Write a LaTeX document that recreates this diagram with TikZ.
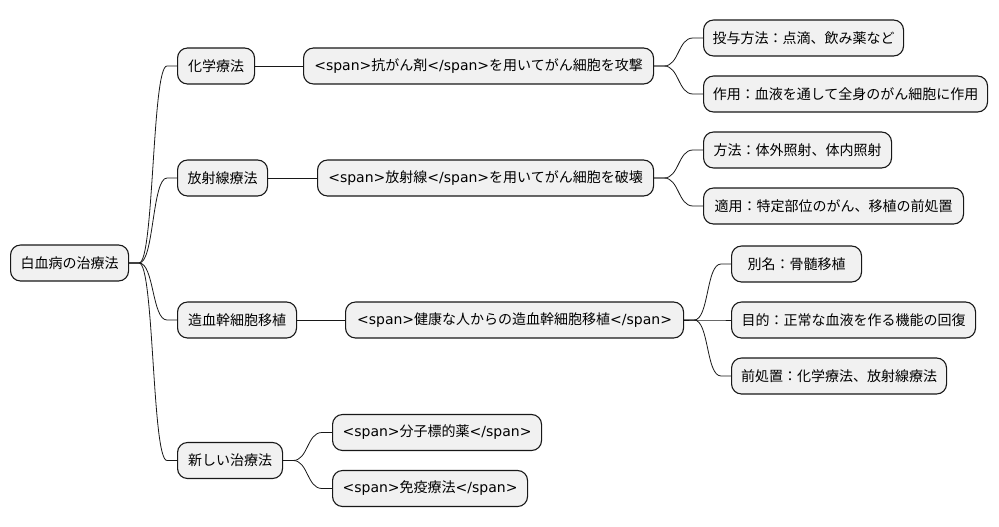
\documentclass[tikz,border=0pt]{standalone}
\usepackage{fontspec}
\setmainfont{Noto Sans CJK JP}
\newfontfamily\lat{DejaVu Sans}
\usetikzlibrary{calc}
\definecolor{boxfill}{HTML}{F1F1F1}
\definecolor{boxline}{HTML}{181818}
\newcommand\spo{{\lat <span>}}
\newcommand\spc{{\lat </span>}}
\tikzset{
  box/.style={draw=boxline, fill=boxfill, line width=1.1pt, rounded corners=10pt,
    minimum height=36pt, inner sep=0pt, anchor=west, font=\fontsize{14}{16}\selectfont},
  link/.style={line width=0.8pt, draw=boxline},
}
\newcommand\branch[2]{%
  \draw[link] (#1.east) -- ($(#1.east)+(10,0)$)
    .. controls ($(#1.east)+(25,0)$) and ($(#2.west)+(-25,0)$) ..
    ($(#2.west)+(-10,0)$) -- (#2.west);}
\begin{document}
\begin{tikzpicture}[x=1pt,y=-1pt]
\useasboundingbox (0,0) rectangle (999,527);
% root
\node[box, minimum width=118pt] (root) at (10,263) {白血病の治療法};
% level 1
\node[box, minimum width=77pt]  (c1) at (177,66)  {化学療法};
\node[box, minimum width=90pt]  (c2) at (177,178) {放射線療法};
\node[box, minimum width=119pt] (c3) at (177,320) {造血幹細胞移植};
\node[box, minimum width=105pt] (c4) at (177,460.5) {新しい治療法};
% level 2
\node[box, minimum width=350pt] (d1) at (303,66)  {\spo 抗がん剤\spc を用いてがん細胞を攻撃};
\node[box, minimum width=336pt] (d2) at (317,178) {\spo 放射線\spc を用いてがん細胞を破壊};
\node[box, minimum width=338pt] (d3) at (345,320) {\spo 健康な人からの造血幹細胞移植\spc};
\node[box, minimum width=209pt] (d4) at (332,432.5) {\spo 分子標的薬\spc};
\node[box, minimum width=195pt] (d5) at (332,488.5) {\spo 免疫療法\spc};
% level 3
\node[box, minimum width=200pt] (e1) at (703,38)  {投与方法：点滴、飲み薬など};
\node[box, minimum width=284pt] (e2) at (703,94)  {作用：血液を通して全身のがん細胞に作用};
\node[box, minimum width=188pt] (e3) at (703,150) {方法：体外照射、体内照射};
\node[box, minimum width=260pt] (e4) at (703,206) {適用：特定部位のがん、移植の前処置};
\node[box, minimum width=130pt] (e5) at (731,264) {別名：骨髄移植};
\node[box, minimum width=244pt] (e6) at (731,320) {目的：正常な血液を作る機能の回復};
\node[box, minimum width=215pt] (e7) at (731,376) {前処置：化学療法、放射線療法};
% connectors
\branch{root}{c1}
\branch{root}{c2}
\branch{root}{c3}
\branch{root}{c4}
\draw[link] (c1.east) -- (d1.west);
\draw[link] (c2.east) -- (d2.west);
\draw[link] (c3.east) -- (d3.west);
\branch{c4}{d4}
\branch{c4}{d5}
\branch{d1}{e1}
\branch{d1}{e2}
\branch{d2}{e3}
\branch{d2}{e4}
\branch{d3}{e5}
\branch{d3}{e6}
\branch{d3}{e7}
\end{tikzpicture}
\end{document}
